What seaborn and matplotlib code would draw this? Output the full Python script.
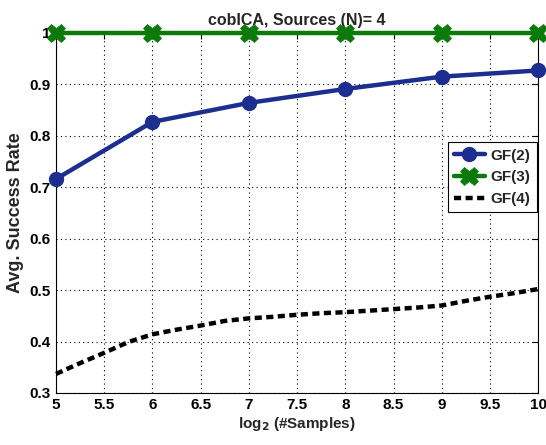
import pandas as pd
import seaborn as sns
import matplotlib.pyplot as plt

# values
log2_samples = [5, 6, 7, 8, 9, 10]
gf2_rate = [0.716, 0.827, 0.864, 0.891, 0.915, 0.927]
gf3_rate = [1.0, 1.0, 1.0, 1.0, 1.0, 1.0]

gf4_x = [5, 5.25, 5.5, 5.75, 6, 6.25, 6.5, 6.75, 7, 7.25, 7.5, 7.75, 8,
         8.25, 8.5, 8.75, 9, 9.25, 9.5, 9.75, 10]
gf4_rate = [0.337, 0.358, 0.378, 0.399, 0.414, 0.423, 0.431, 0.440, 0.445,
            0.448, 0.452, 0.455, 0.457, 0.460, 0.463, 0.466, 0.470, 0.479,
            0.487, 0.494, 0.502]

x_ticks = [5, 5.5, 6, 6.5, 7, 7.5, 8, 8.5, 9, 9.5, 10]
y_ticks = [0.3, 0.4, 0.5, 0.6, 0.7, 0.8, 0.9, 1.0]

sns.set_style("white")
plt.rcParams['font.family'] = ['Liberation Sans', 'DejaVu Sans']
plt.rcParams['font.weight'] = 'bold'

df_top = pd.DataFrame({"x": log2_samples, "gf2": gf2_rate, "gf3": gf3_rate})
df_gf4 = pd.DataFrame({"x": gf4_x, "gf4": gf4_rate})

fig = plt.figure(figsize=(5.46, 4.45), dpi=100)
ax = fig.add_axes([0.1026, 0.117, 0.883, 0.809])

sns.lineplot(data=df_top, x="x", y="gf2", ax=ax, color="#1c2f91", lw=3.2,
             marker="o", markersize=8.5, markeredgewidth=2.5,
             markerfacecolor="#1c2f91", markeredgecolor="#1c2f91",
             label="GF(2)", clip_on=False, zorder=4)
sns.lineplot(data=df_top, x="x", y="gf3", ax=ax, color="#0b7a0b", lw=3.2,
             marker="X", markersize=13, markeredgewidth=0.5,
             markeredgecolor="#0b7a0b",
             label="GF(3)", clip_on=False, zorder=5)
sns.lineplot(data=df_gf4, x="x", y="gf4", ax=ax, color="black", lw=3.2,
             linestyle=(0, (1.6, 1.0)), label="GF(4)", clip_on=False, zorder=3)

ax.set_xlim(5, 10)
ax.set_ylim(0.3, 1.0)
ax.set_xticks(x_ticks)
ax.set_xticklabels(["5", "5.5", "6", "6.5", "7", "7.5", "8", "8.5", "9", "9.5", "10"])
ax.set_yticks(y_ticks)
ax.set_yticklabels(["0.3", "0.4", "0.5", "0.6", "0.7", "0.8", "0.9", "1"])
ax.tick_params(direction="in", length=4, width=0.8, top=True, right=True,
               labelsize=11, pad=4, colors="black")
for lab in ax.get_xticklabels() + ax.get_yticklabels():
    lab.set_fontweight("bold")
ax.grid(True, color="black", linestyle=(0, (1, 3)), linewidth=0.8)
for sp in ax.spines.values():
    sp.set_color("black")
    sp.set_linewidth(0.8)

ax.set_title("cobICA, Sources (N)= 4", fontsize=11.5, fontweight="bold", pad=6)
ax.set_xlabel("log$_\\mathbf{2}$ (#Samples)", fontsize=11, fontweight="bold", labelpad=2)
ax.set_ylabel("Avg. Success Rate", fontsize=13, fontweight="bold", labelpad=4)

leg = ax.legend(loc="upper right", bbox_to_anchor=(1.0, 0.70), fancybox=False,
                framealpha=1, edgecolor="black", fontsize=11, handlelength=2.0,
                borderpad=0.4, labelspacing=0.5, handletextpad=0.4,
                borderaxespad=0.1)
leg.get_frame().set_linewidth(0.8)
for t in leg.get_texts():
    t.set_fontweight("bold")

fig.savefig("out.png", dpi=100)
